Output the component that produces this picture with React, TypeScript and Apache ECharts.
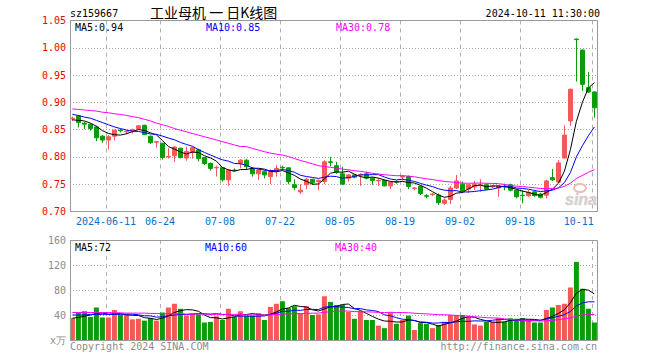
import React, { useEffect, useRef } from 'react';
import * as echarts from 'echarts';

// ---- data (88 trading days, 2024-05-31 .. 2024-10-11) ----
const opens = [0.870,0.875,0.862,0.860,0.855,0.838,0.831,0.838,0.849,0.846,
 0.848,0.852,0.858,0.838,0.827,0.825,0.800,0.802,0.816,0.798,
 0.808,0.813,0.799,0.788,0.780,0.780,0.758,0.776,0.788,0.794,
 0.779,0.769,0.773,0.764,0.773,0.781,0.780,0.749,0.736,0.749,
 0.759,0.755,0.755,0.791,0.784,0.769,0.761,0.767,0.767,0.769,
 0.761,0.756,0.757,0.747,0.755,0.763,0.764,0.742,0.746,0.729,
 0.731,0.730,0.715,0.722,0.743,0.750,0.741,0.745,0.748,0.749,
 0.745,0.743,0.746,0.749,0.739,0.730,0.729,0.736,0.732,0.730,
 0.762,0.754,0.798,0.866,1.016,0.996,0.927,0.919];
const closes = [0.871,0.863,0.860,0.852,0.835,0.831,0.837,0.849,0.848,0.847,
 0.850,0.857,0.841,0.826,0.828,0.799,0.801,0.818,0.799,0.810,
 0.817,0.797,0.788,0.779,0.781,0.758,0.776,0.775,0.794,0.782,
 0.769,0.776,0.767,0.773,0.779,0.780,0.755,0.744,0.739,0.759,
 0.753,0.757,0.791,0.790,0.772,0.750,0.767,0.763,0.768,0.761,
 0.757,0.757,0.747,0.754,0.754,0.764,0.746,0.743,0.733,0.728,
 0.732,0.716,0.721,0.743,0.756,0.738,0.749,0.750,0.749,0.741,
 0.746,0.747,0.745,0.739,0.727,0.729,0.735,0.729,0.726,0.756,
 0.758,0.789,0.840,0.924,1.015,0.933,0.919,0.890];
const lows = [0.866,0.854,0.851,0.848,0.829,0.826,0.814,0.830,0.845,0.842,
 0.843,0.850,0.840,0.824,0.817,0.795,0.797,0.791,0.797,0.793,
 0.797,0.792,0.785,0.775,0.764,0.755,0.747,0.773,0.779,0.777,
 0.764,0.758,0.761,0.750,0.764,0.776,0.750,0.739,0.732,0.741,
 0.749,0.739,0.750,0.783,0.769,0.749,0.755,0.761,0.747,0.759,
 0.749,0.747,0.746,0.741,0.751,0.757,0.741,0.739,0.730,0.724,
 0.728,0.712,0.712,0.714,0.741,0.734,0.734,0.739,0.736,0.739,
 0.743,0.727,0.739,0.737,0.724,0.715,0.727,0.727,0.724,0.724,
 0.756,0.753,0.797,0.857,0.938,0.921,0.917,0.872];
const highs = [0.874,0.877,0.864,0.861,0.857,0.840,0.840,0.850,0.852,0.849,
 0.852,0.858,0.859,0.839,0.829,0.826,0.816,0.820,0.817,0.819,
 0.819,0.815,0.800,0.790,0.784,0.781,0.777,0.779,0.796,0.796,
 0.781,0.777,0.775,0.777,0.785,0.784,0.781,0.759,0.750,0.762,
 0.760,0.759,0.794,0.800,0.791,0.782,0.768,0.768,0.770,0.773,
 0.763,0.761,0.758,0.755,0.757,0.767,0.766,0.745,0.748,0.732,
 0.734,0.733,0.724,0.747,0.767,0.755,0.750,0.756,0.759,0.751,
 0.748,0.748,0.751,0.751,0.740,0.739,0.739,0.738,0.734,0.758,
 0.778,0.794,0.858,0.925,1.017,0.996,0.956,0.920];
const volumes = [35,44,46,37,52,36,36,48,40,41, 33,34,31,35,31,44,52,58,50,39,
 42,41,28,29,38,32,50,37,46,39, 39,43,32,53,58,62,51,54,43,54,
 40,41,70,61,56,56,45,34,46,32, 32,23,19,44,26,32,39,16,27,26,
 19,24,29,40,40,40,37,25,23,29, 29,35,29,35,34,35,33,28,28,48,
 52,56,58,84,125,82,50,28];

// moving-average values at the left edge (their history lies before the window)
const ma5Head = [0.868, 0.867, 0.866, 0.862];
const ma10Head = [0.878, 0.876, 0.873, 0.871, 0.867, 0.863, 0.859, 0.855, 0.852];
const ma30Head = [0.888, 0.887, 0.886, 0.885, 0.884, 0.882, 0.881, 0.879, 0.878, 0.876, 0.874, 0.872, 0.869, 0.866, 0.862, 0.859, 0.856, 0.852, 0.849, 0.846, 0.843, 0.840, 0.837, 0.834, 0.831, 0.828, 0.825, 0.822, 0.819];
const volMa5Head = [35, 36, 38, 40];
const volMa10Head = [40, 40, 40, 41, 41, 41, 41, 41, 41];
const volMa30Head = [44,44,44,44,44,44,44,43.5,43.5,43,43,43,43,42.5,42.5,42,42,42,42,41.5,41.5,41.5,41.5,41,41,41,41,41,41];

const dateLabels = ['2024-06-11', '06-24', '07-08', '07-22', '08-05', '08-19', '09-02', '09-18', '10-11'];
const dateIndex = [6, 15, 25, 35, 45, 55, 65, 75, 87];
const priceLegend = ['MA5:0.94', 'MA10:0.85', 'MA30:0.78'];
const volLegend = ['MA5:72', 'MA10:60', 'MA30:40'];
const titleCode = 'sz159667';
const titleName = '工业母机 一 日K线图';
const titleTime = '2024-10-11 11:30:00';

function movingAvg(values: number[], n: number, head: number[]) {
  return values.map((_, i) => {
    if (i < n - 1) return head[i];
    let s = 0;
    for (let k = i - n + 1; k <= i; k++) s += values[k];
    return s / n;
  });
}

const RED = '#f45858';
const GREEN = '#0a9c0a';
const MONO = '"DejaVu Sans Mono", monospace';

export default function App() {
  const ref = useRef<HTMLDivElement>(null);
  useEffect(() => {
    if (!ref.current) return;
    const chart = echarts.init(ref.current, null, { renderer: 'svg' });
    const N = closes.length;
    const lineX = dateIndex.map((i) => i - 0.35);
    const labelX = dateIndex.map((i, k) => (k === dateIndex.length - 1 ? i - 2.6 : i - 0.4));
    const up = closes.map((c, i) => c >= opens[i]);
    const idx = closes.map((_, i) => i);
    const pts = (arr: number[]) => arr.map((v, i) => [i, v]);

    const xBase = (showLabel: boolean) => ({
      type: 'value',
      min: -0.4,
      max: N - 0.4,
      axisLine: { show: false },
      axisTick: { show: false, customValues: lineX },
      splitLine: { show: true, lineStyle: { color: '#b0b0b0', type: [4, 4], width: 1 } },
      axisLabel: {
        show: showLabel,
        customValues: labelX,
        formatter: (v: number) => {
          const k = labelX.findIndex((x) => Math.abs(x - v) < 1e-6);
          return k >= 0 ? dateLabels[k] : '';
        },
        color: '#0a6fd0',
        fontFamily: MONO,
        fontSize: 10,
        margin: 5,
      },
    });

    const lineSeries = (data: number[], color: string, xi: number) => ({
      type: 'line',
      xAxisIndex: xi,
      yAxisIndex: xi,
      data: pts(data),
      showSymbol: false,
      symbol: 'none',
      silent: true,
      lineStyle: { color, width: 1 },
      z: 3,
    });

    const txt = (text: string, x: number, y: number, fill: string, font: string, align = 'left') => ({
      type: 'text',
      x,
      y,
      z: 20,
      style: { text, fill, font, align, textAlign: align, verticalAlign: 'middle', textVerticalAlign: 'middle' },
    });

    const option: any = {
      animation: false,
      backgroundColor: '#fff',
      grid: [
        { left: 70, top: 20.5, width: 528, height: 191, outerBoundsMode: 'none' },
        { left: 70, top: 240, width: 528, height: 100, outerBoundsMode: 'none' },
      ],
      xAxis: [
        { ...xBase(true), gridIndex: 0 },
        { ...xBase(false), gridIndex: 1 },
      ],
      yAxis: [
        {
          type: 'value', gridIndex: 0, min: 0.7, max: 1.05, interval: 0.05,
          axisLine: { show: false }, axisTick: { show: false },
          splitLine: { show: true, lineStyle: { color: '#a8a8a8', type: [1, 2] } },
          axisLabel: { color: '#ee0000', fontFamily: MONO, fontSize: 10, margin: 4, formatter: (v: number) => v.toFixed(2) },
        },
        {
          type: 'value', gridIndex: 1, min: 0, max: 160, interval: 40,
          axisLine: { show: false }, axisTick: { show: false },
          splitLine: { show: true, lineStyle: { color: '#a8a8a8', type: [1, 2] } },
          axisLabel: { color: '#8c8c8c', fontFamily: MONO, fontSize: 10, margin: 4, formatter: (v: number) => (v === 0 ? 'x万' : String(v)) },
        },
      ],
      series: [
        {
          type: 'candlestick',
          xAxisIndex: 0,
          yAxisIndex: 0,
          barWidth: 5,
          data: idx.map((i) => [i, opens[i], closes[i], lows[i], highs[i]]),
          itemStyle: { color: RED, color0: GREEN, borderColor: RED, borderColor0: GREEN, borderWidth: 1 },
          z: 2,
        },
        lineSeries(movingAvg(closes, 5, ma5Head), '#000000', 0),
        lineSeries(movingAvg(closes, 10, ma10Head), '#0000ff', 0),
        lineSeries(movingAvg(closes, 30, ma30Head), '#ff00ff', 0),
        {
          type: 'bar',
          xAxisIndex: 1,
          yAxisIndex: 1,
          barWidth: 5,
          data: idx.map((i) => ({ value: [i, volumes[i]], itemStyle: { color: up[i] ? RED : GREEN } })),
          z: 2,
        },
        lineSeries(movingAvg(volumes, 5, volMa5Head), '#000000', 1),
        lineSeries(movingAvg(volumes, 10, volMa10Head), '#0000ff', 1),
        lineSeries(movingAvg(volumes, 30, volMa30Head), '#ff00ff', 1),
      ],
      graphic: [
        { type: 'rect', z: 15, shape: { x: 70.5, y: 20.5, width: 527, height: 191 }, style: { fill: 'none', stroke: '#999', lineWidth: 1 } },
        { type: 'rect', z: 15, shape: { x: 70.5, y: 240.5, width: 527, height: 100 }, style: { fill: 'none', stroke: '#999', lineWidth: 1 } },
        txt(titleCode, 70, 13, '#000', `10px ${MONO}`),
        txt(titleName, 150, 12, '#000', '14px "Noto Sans CJK SC"'),
        txt(titleTime, 600, 13, '#000', `10px ${MONO}`, 'right'),
        txt(priceLegend[0], 75, 27, '#000', `10px ${MONO}`),
        txt(priceLegend[1], 206, 27, '#0000ff', `10px ${MONO}`),
        txt(priceLegend[2], 336, 27, '#ff00ff', `10px ${MONO}`),
        txt(volLegend[0], 75, 247, '#000', `10px ${MONO}`),
        txt(volLegend[1], 205, 247, '#0000ff', `10px ${MONO}`),
        txt(volLegend[2], 335, 247, '#ff00ff', `10px ${MONO}`),
        txt('Copyright 2024 SINA.COM', 70, 346, '#8c8c8c', `10px ${MONO}`),
        txt('http://finance.sina.com.cn', 597, 346, '#8c8c8c', `10px ${MONO}`, 'right'),
        { type: 'ellipse', z: 1, shape: { cx: 580, cy: 188, rx: 6, ry: 4 }, style: { fill: 'none', stroke: '#eebbbb', lineWidth: 2 } },
        { type: 'text', z: 1, x: 581, y: 199, style: { text: 'sina', fill: '#d2d2d2', stroke: '#f0c8c8', lineWidth: 0.5, font: 'italic bold 16px "Liberation Sans"', align: 'center', textAlign: 'center', verticalAlign: 'middle', textVerticalAlign: 'middle' } },
      ],
    };
    chart.setOption(option);
    return () => chart.dispose();
  }, []);
  return <div ref={ref} style={{ position: 'fixed', left: 0, top: 0, width: 660, height: 360, background: '#fff' }} />;
}
